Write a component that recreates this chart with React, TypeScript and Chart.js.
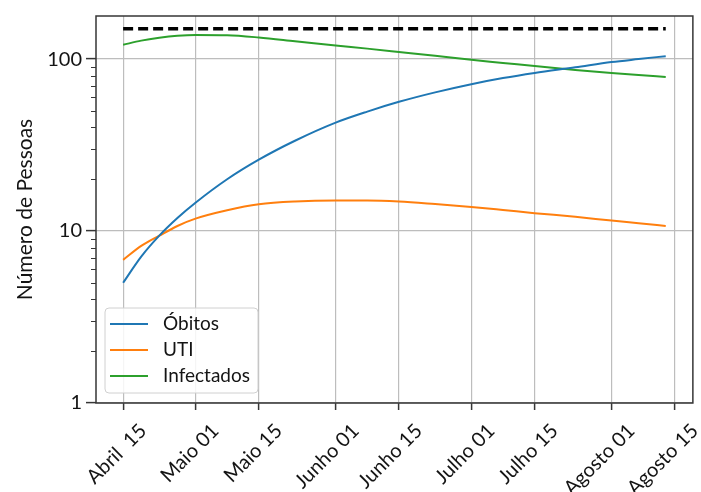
import React, { useEffect, useRef } from "react";
import { Chart, registerables } from "chart.js";

Chart.register(...registerables);

// Days since April 15
const days = [0, 4, 8, 12, 16, 23, 30, 38, 47, 54, 61, 69, 77, 84, 91, 100, 108, 114, 120];
const obitos = [5.0, 7.1, 9.4, 11.9, 14.6, 20.0, 26.0, 33.5, 42.7, 49.5, 56.4, 64.0, 71.4, 77.5, 83.0, 89.5, 96.0, 100.0, 104.0];
const uti = [6.8, 8.2, 9.4, 10.7, 11.8, 13.2, 14.3, 14.85, 15.05, 15.05, 14.85, 14.35, 13.8, 13.25, 12.7, 12.1, 11.5, 11.1, 10.7];
const infectados = [121, 128, 133, 136.5, 138, 137.5, 133.5, 127, 120, 115, 110, 104.5, 99, 95, 91, 86.5, 83, 80.7, 78.7];
const limitDays = [0, 120];
const limitValues = [150, 150];

const seriesLabels = ["Óbitos", "UTI", "Infectados"];
const seriesColors = ["#1f77b4", "#ff7f0e", "#2ca02c"];

const tickDays = [0, 16, 30, 47, 61, 77, 91, 108, 122];
const tickLabels = ["Abril  15", "Maio 01", "Maio 15", "Junho 01", "Junho 15", "Julho 01", "Julho 15", "Agosto 01", "Agosto 15"];
const yTicks = [1, 10, 100];
const yTitle = "Número de Pessoas";

const FONT = "Lato";
const TEXT = "#141414";
const SPINE = "#363636";
const GRID = "#bdbdbd";

const toPoints = (xs: number[], ys: number[]) => xs.map((x, i) => ({ x, y: ys[i] }));

const framePlugin = {
  id: "frameAndMinor",
  afterDatasetsDraw(chart: any) {
    const { ctx, chartArea } = chart;
    const ys = chart.scales.y;
    ctx.save();
    ctx.strokeStyle = SPINE;
    ctx.lineWidth = 1.5;
    ctx.strokeRect(chartArea.left, chartArea.top, chartArea.right - chartArea.left, chartArea.bottom - chartArea.top);
    // minor log ticks
    ctx.lineWidth = 1;
    for (const d of yTicks) {
      for (let m = 2; m <= 9; m++) {
        const v = d * m;
        if (v > ys.max) continue;
        const py = Math.round(ys.getPixelForValue(v)) + 0.5;
        ctx.beginPath();
        ctx.moveTo(chartArea.left - 5, py);
        ctx.lineTo(chartArea.left, py);
        ctx.stroke();
      }
    }
    ctx.restore();
  },
};

const legendPlugin = {
  id: "innerLegend",
  afterDraw(chart: any) {
    const { ctx, chartArea } = chart;
    const bx = chartArea.left + 9;
    const by = chartArea.bottom - 95;
    const bw = 153;
    const bh = 85;
    ctx.save();
    ctx.beginPath();
    const r = 4;
    ctx.moveTo(bx + r, by);
    ctx.lineTo(bx + bw - r, by);
    ctx.arcTo(bx + bw, by, bx + bw, by + r, r);
    ctx.lineTo(bx + bw, by + bh - r);
    ctx.arcTo(bx + bw, by + bh, bx + bw - r, by + bh, r);
    ctx.lineTo(bx + r, by + bh);
    ctx.arcTo(bx, by + bh, bx, by + bh - r, r);
    ctx.lineTo(bx, by + r);
    ctx.arcTo(bx, by, bx + r, by, r);
    ctx.closePath();
    ctx.fillStyle = "rgba(255,255,255,0.85)";
    ctx.fill();
    ctx.strokeStyle = "#d0d0d0";
    ctx.lineWidth = 1;
    ctx.stroke();
    ctx.font = `19px ${FONT}`;
    ctx.textBaseline = "middle";
    ctx.textAlign = "left";
    chart.data.datasets.forEach((ds: any, i: number) => {
      if (ds.hideInLegend) return;
      const cy = by + 16 + i * 26;
      ctx.strokeStyle = ds.borderColor;
      ctx.lineWidth = 2;
      ctx.beginPath();
      ctx.moveTo(bx + 5, cy);
      ctx.lineTo(bx + 43, cy);
      ctx.stroke();
      ctx.fillStyle = TEXT;
      ctx.fillText(ds.label, bx + 58, cy);
    });
    ctx.restore();
  },
};

export default function App() {
  const ref = useRef<HTMLCanvasElement | null>(null);
  useEffect(() => {
    document.body.style.margin = "0";
    Chart.defaults.font.family = FONT;
    const series = [obitos, uti, infectados];
    const chart = new Chart(ref.current as HTMLCanvasElement, {
      type: "line",
      data: {
        datasets: [
          ...series.map((s, i) => ({
            label: seriesLabels[i],
            data: toPoints(days, s),
            borderColor: seriesColors[i],
            backgroundColor: seriesColors[i],
            borderWidth: 2,
            pointRadius: 0,
            cubicInterpolationMode: "monotone" as const,
          })),
          {
            label: "Limite",
            hideInLegend: true,
            data: toPoints(limitDays, limitValues),
            borderColor: "#000",
            backgroundColor: "#000",
            borderWidth: 3.5,
            borderDash: [10, 5],
            pointRadius: 0,
          } as any,
        ],
      },
      options: {
        responsive: false,
        animation: false,
        layout: { padding: { top: 14, right: 8, left: 0, bottom: 0 } },
        plugins: { legend: { display: false }, tooltip: { enabled: false } },
        scales: {
          x: {
            type: "linear",
            min: -6,
            max: 126,
            afterBuildTicks: (s: any) => {
              s.ticks = tickDays.map((v) => ({ value: v }));
            },
            afterFit: (s: any) => {
              s.height = 89;
            },
            ticks: {
              autoSkip: false,
              minRotation: 45,
              maxRotation: 45,
              labelOffset: 20,
              padding: 9,
              color: TEXT,
              font: { size: 20, family: FONT },
              callback: (v: any) => {
                const i = tickDays.indexOf(Number(v));
                return i >= 0 ? tickLabels[i] : "";
              },
            },
            grid: { color: GRID, lineWidth: 1.2, tickColor: SPINE, tickLength: 7, tickWidth: 1.5 },
            border: { display: false },
          },
          y: {
            type: "logarithmic",
            min: 1,
            max: 178,
            afterBuildTicks: (s: any) => {
              s.ticks = yTicks.map((v) => ({ value: v, major: true }));
            },
            afterFit: (s: any) => {
              s.width = 96;
            },
            ticks: {
              autoSkip: false,
              padding: 4,
              color: TEXT,
              font: { size: 20, family: FONT },
              callback: (v: any) => String(v),
            },
            title: {
              display: true,
              text: yTitle,
              color: TEXT,
              font: { size: 21, family: FONT },
              padding: { top: 13, bottom: 0 },
            },
            grid: { color: GRID, lineWidth: 1.2, tickColor: SPINE, tickLength: 10, tickWidth: 1.5 },
            border: { display: false },
          },
        },
      },
      plugins: [framePlugin, legendPlugin],
    } as any);
    return () => chart.destroy();
  }, []);
  return (
    <div style={{ width: 701, height: 492 }}>
      <canvas ref={ref} width={701} height={492} style={{ display: "block" }} />
    </div>
  );
}
